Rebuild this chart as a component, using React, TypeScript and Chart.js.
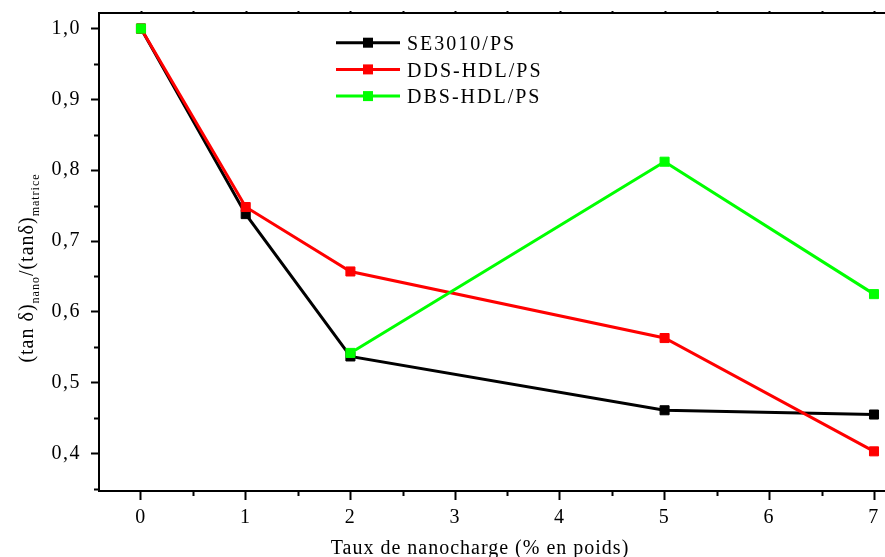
import { useEffect, useRef } from "react";
import { Chart, registerables } from "chart.js";

Chart.register(...registerables);

// Nanofiller loading (wt %) and normalised loss factor for each composite
const loadings = [0, 1, 2, 5, 7];
const se3010Ps = [1.0, 0.738, 0.537, 0.461, 0.455];
const ddsHdlPs = [1.0, 0.748, 0.657, 0.563, 0.403];
const dbsHdlPs = [1.0, null, 0.542, 0.812, 0.625];

const seriesNames = ["SE3010/PS", "DDS-HDL/PS", "DBS-HDL/PS"];
const seriesColors = ["#000000", "#ff0000", "#00ff00"];

const xTitle = "Taux de nanocharge (% en poids)";
const yTitleParts: { text: string; sub: boolean }[] = [
  { text: "(tan δ)", sub: false },
  { text: "nano", sub: true },
  { text: "/(tanδ)", sub: false },
  { text: "matrice", sub: true },
];

const X_MIN = -0.401;
const X_MAX = 7.105;
const Y_MIN = 0.347;
const Y_MAX = 1.022;

const SERIF = "'Liberation Serif', 'Times New Roman', serif";

const toPoints = (vals: (number | null)[]) =>
  loadings.map((x, i) => ({ x, y: vals[i] }));

// keep the plot area edges fixed regardless of label overhang
const noScalePadding = (s: any) => {
  s.paddingTop = 0;
  s.paddingBottom = 0;
  s.paddingLeft = 0;
  s.paddingRight = 0;
};

const decorations = {
  id: "decorations",
  beforeDraw(chart: any) {
    chart.ctx.letterSpacing = "1.5px";
  },
  afterDraw(chart: any) {
    const { ctx, chartArea } = chart;
    const xs = chart.scales.x;
    const ys = chart.scales.y;
    ctx.save();
    ctx.letterSpacing = "0px";
    ctx.strokeStyle = "#000";
    ctx.lineWidth = 2;

    // top frame line with short outward ticks
    ctx.beginPath();
    ctx.moveTo(chartArea.left - 1, chartArea.top);
    ctx.lineTo(chartArea.right, chartArea.top);
    for (let v = -0.5; v <= X_MAX; v += 0.5) {
      if (v < X_MIN) continue;
      const px = Math.round(xs.getPixelForValue(v)) + 0.5;
      ctx.moveTo(px, chartArea.top);
      ctx.lineTo(px, chartArea.top - 2);
    }
    ctx.stroke();

    // minor ticks on x
    ctx.beginPath();
    for (let k = -1; k <= 7; k++) {
      const v = k + 0.5;
      if (v < X_MIN || v > X_MAX) continue;
      const px = Math.round(xs.getPixelForValue(v)) + 0.5;
      ctx.moveTo(px, chartArea.bottom);
      ctx.lineTo(px, chartArea.bottom + 5);
    }
    // minor ticks on y
    for (let k = 3; k <= 9; k++) {
      const v = k / 10 + 0.05;
      if (v < Y_MIN || v > Y_MAX) continue;
      const py = Math.round(ys.getPixelForValue(v)) + 0.5;
      ctx.moveTo(chartArea.left, py);
      ctx.lineTo(chartArea.left - 5, py);
    }
    ctx.stroke();

    // legend: line with square marker, then label
    ctx.font = `20px ${SERIF}`;
    ctx.textAlign = "left";
    ctx.textBaseline = "alphabetic";
    seriesNames.forEach((name, i) => {
      const y = 42.7 + i * 26.7;
      ctx.strokeStyle = seriesColors[i];
      ctx.lineWidth = 3;
      ctx.beginPath();
      ctx.moveTo(336, y);
      ctx.lineTo(400, y);
      ctx.stroke();
      ctx.fillStyle = seriesColors[i];
      ctx.fillRect(368 - 5, y - 5, 10, 10);
      ctx.fillStyle = "#000";
      ctx.letterSpacing = "2px";
      ctx.fillText(name, 407, y + 7.3);
      ctx.letterSpacing = "0px";
    });

    // x axis title
    ctx.fillStyle = "#000";
    ctx.font = `20px ${SERIF}`;
    ctx.textAlign = "center";
    ctx.letterSpacing = "1px";
    ctx.fillText(xTitle, 480, 554);

    // y axis title, rotated, with subscripts
    const mainFont = `20px ${SERIF}`;
    const subFont = `12px ${SERIF}`;
    ctx.textAlign = "left";
    let total = 0;
    const widths = yTitleParts.map((p) => {
      ctx.font = p.sub ? subFont : mainFont;
      const w = ctx.measureText(p.text).width;
      total += w;
      return w;
    });
    ctx.translate(33, 268);
    ctx.rotate(-Math.PI / 2);
    let cx = -total / 2;
    yTitleParts.forEach((p, i) => {
      ctx.font = p.sub ? subFont : mainFont;
      ctx.fillText(p.text, cx, p.sub ? 6 : 0);
      cx += widths[i];
    });
    ctx.restore();
  },
};

export default function App() {
  const ref = useRef<HTMLCanvasElement | null>(null);

  useEffect(() => {
    if (!ref.current) return;
    const tickFont = { family: SERIF, size: 20 };
    const chart = new Chart(ref.current, {
      type: "line",
      data: {
        datasets: [
          { label: seriesNames[0], data: toPoints(se3010Ps), order: 3 },
          { label: seriesNames[1], data: toPoints(ddsHdlPs), order: 2 },
          { label: seriesNames[2], data: toPoints(dbsHdlPs), order: 1 },
        ].map((d, i) => ({
          ...d,
          borderColor: seriesColors[i],
          backgroundColor: seriesColors[i],
          pointBackgroundColor: seriesColors[i],
          pointBorderColor: seriesColors[i],
          borderWidth: 3,
          pointStyle: "rect",
          pointRadius: 6.4,
          pointBorderWidth: 1,
          pointHoverRadius: 6.4,
          spanGaps: false,
          tension: 0,
          fill: false,
        })) as any,
      },
      options: {
        responsive: false,
        animation: false,
        devicePixelRatio: 1,
        layout: {
          autoPadding: false,
          padding: { top: 13, right: 0, left: 0, bottom: 0 },
        },
        plugins: { legend: { display: false }, tooltip: { enabled: false } },
        scales: {
          x: {
            type: "linear",
            min: X_MIN,
            max: X_MAX,
            afterFit: (s: any) => {
              s.height = 66;
              noScalePadding(s);
            },
            ticks: {
              stepSize: 1,
              includeBounds: false,
              autoSkip: false,
              maxRotation: 0,
              padding: 6,
              color: "#000",
              font: tickFont,
              callback: (v: any) => String(v),
            },
            grid: {
              drawOnChartArea: false,
              drawTicks: true,
              tickLength: 9,
              tickWidth: 2,
              tickColor: "#000",
              color: "#000",
            },
            border: { display: true, color: "#000", width: 2 },
          },
          y: {
            type: "linear",
            min: Y_MIN,
            max: Y_MAX,
            afterFit: (s: any) => {
              s.width = 99;
              noScalePadding(s);
            },
            ticks: {
              stepSize: 0.1,
              includeBounds: false,
              padding: 10,
              color: "#000",
              font: tickFont,
              callback: (v: any) => Number(v).toFixed(1).replace(".", ","),
            },
            grid: {
              drawOnChartArea: false,
              drawTicks: true,
              tickLength: 8,
              tickWidth: 2,
              tickColor: "#000",
              color: "#000",
            },
            border: { display: true, color: "#000", width: 2 },
          },
        },
      } as any,
      plugins: [decorations],
    });
    return () => chart.destroy();
  }, []);

  return (
    <div
      style={{
        position: "absolute",
        left: 0,
        top: 0,
        width: 885,
        height: 557,
        background: "#fff",
      }}
    >
      <canvas ref={ref} width={885} height={557} />
    </div>
  );
}
